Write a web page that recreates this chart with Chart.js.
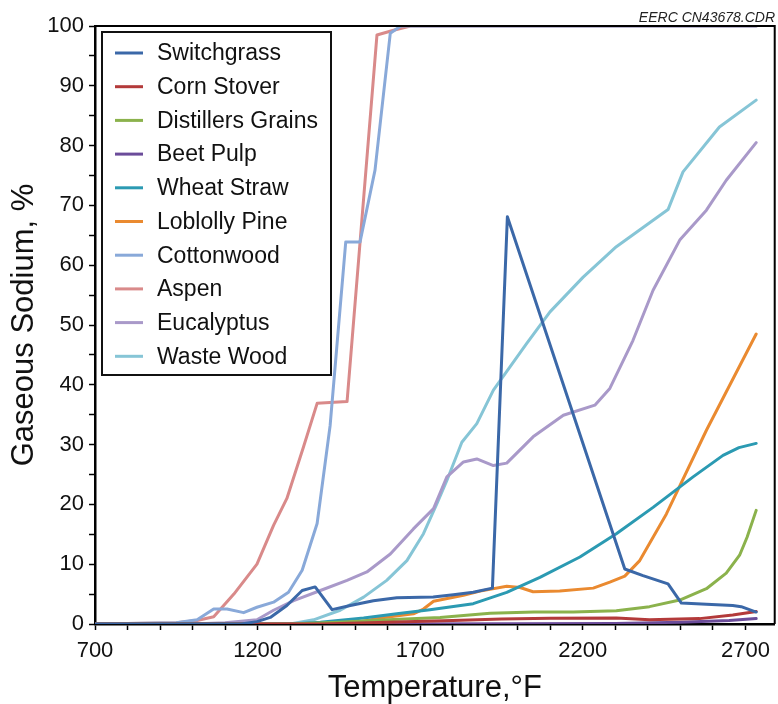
<!DOCTYPE html>
<html>
<head>
<meta charset="utf-8">
<script src="https://cdn.jsdelivr.net/npm/chart.js@4.4.1/dist/chart.umd.min.js"></script>
<style>
  html, body { margin: 0; padding: 0; background: #fff; }
  #wrap { position: relative; width: 778px; height: 704px; }
</style>
</head>
<body>
<div id="wrap"><canvas id="c"></canvas></div>
<script>
// ---- data (temperature in °F, gaseous sodium in %) ----
const seriesNames = ['Switchgrass','Corn Stover','Distillers Grains','Beet Pulp','Wheat Straw','Loblolly Pine','Cottonwood','Aspen','Eucalyptus','Waste Wood'];
const seriesColors = ['#3b68a8','#b33a3a','#8bb24c','#6b4c9a','#2b9ab2','#ea8a30','#89a9d9','#d98a8a','#a999c9','#86c5d6'];

const switchgrassT = [700,1150,1198,1239,1290,1337,1377,1429,1485,1556,1628,1740,1802,1863,1922,1968,2329,2385,2462,2503,2580,2661,2687,2733];
const switchgrassNa = [0,0,0.4,1.1,3.1,5.6,6.2,2.4,3.1,3.9,4.4,4.5,4.9,5.3,6.0,68.1,9.2,8.1,6.7,3.5,3.3,3.1,2.9,2.0];

const cornStoverT = [700,1400,1600,1800,1950,2100,2303,2405,2559,2661,2733];
const cornStoverNa = [0,0,0.3,0.6,0.85,0.95,1.0,0.7,0.9,1.5,2.1];

const distillersT = [700,1300,1450,1600,1761,1915,2050,2170,2303,2405,2498,2580,2641,2682,2705,2733];
const distillersNa = [0,0,0.3,0.7,1.1,1.8,2.0,2.0,2.2,2.9,4.0,5.9,8.5,11.5,14.5,19.0];

const beetPulpT = [700,1500,2000,2300,2500,2650,2733];
const beetPulpNa = [0,0,0.05,0.1,0.3,0.6,0.9];

const wheatStrawT = [700,1300,1393,1526,1628,1730,1863,1966,2068,2191,2303,2416,2539,2631,2680,2733];
const wheatStrawNa = [0,0,0.3,1.0,1.7,2.4,3.4,5.3,7.8,11.2,15.1,19.5,24.6,28.2,29.5,30.2];

const loblollyT = [700,1400,1500,1577,1679,1710,1741,1833,1884,1966,2007,2047,2129,2232,2283,2329,2375,2457,2580,2733];
const loblollyNa = [0,0,0.2,1.0,1.7,2.5,3.8,4.8,5.5,6.3,6.1,5.4,5.5,6.0,7.0,8.0,10.6,18.4,32.4,48.5];

const cottonwoodT = [700,950,1014,1065,1106,1157,1198,1249,1295,1337,1383,1423,1471,1515,1561,1608,1640,2733];
const cottonwoodNa = [0,0.2,0.7,2.5,2.5,1.9,2.8,3.65,5.3,9.0,16.8,33.2,63.9,63.9,75.9,98.8,100,100];

const aspenT = [700,950,1014,1065,1127,1198,1249,1290,1341,1383,1475,1567,1618,1670,2733];
const aspenNa = [0,0.2,0.6,1.2,5,10,16.5,21,29.6,36.9,37.2,98.5,99.3,100,100];

const eucalyptusT = [700,1000,1100,1198,1249,1311,1393,1475,1536,1608,1679,1741,1782,1833,1874,1925,1966,2047,2140,2237,2283,2354,2416,2498,2580,2641,2733];
const eucalyptusNa = [0,0,0.2,0.7,2.3,3.9,5.6,7.3,8.7,11.7,15.9,19.3,24.6,27.1,27.6,26.5,26.9,31.3,34.9,36.6,39.4,47.4,55.8,64.2,69.2,74.2,80.5];

const wasteWoodT = [700,1300,1372,1454,1526,1597,1659,1710,1751,1782,1828,1874,1925,1976,2027,2099,2201,2303,2462,2508,2620,2733];
const wasteWoodNa = [0,0,0.7,2.3,4.5,7.3,10.6,15.1,20.1,24,30.4,33.5,39.1,43,46.9,52.2,58,63.1,69.3,75.6,83.1,87.6];

const xTickLabels = [700,1200,1700,2200,2700];
const xMinorStep = 100;
const yTickLabels = [0,10,20,30,40,50,60,70,80,90,100];
const yMinorStep = 5;

const seriesT = [switchgrassT,cornStoverT,distillersT,beetPulpT,wheatStrawT,loblollyT,cottonwoodT,aspenT,eucalyptusT,wasteWoodT];
const seriesNa = [switchgrassNa,cornStoverNa,distillersNa,beetPulpNa,wheatStrawNa,loblollyNa,cottonwoodNa,aspenNa,eucalyptusNa,wasteWoodNa];

const FONT = "'Liberation Sans', Arial, Helvetica, sans-serif";

const datasets = seriesNames.map((name, i) => ({
  label: name,
  data: seriesT[i].map((t, k) => ({x: t, y: seriesNa[i][k]})),
  borderColor: seriesColors[i],
  backgroundColor: seriesColors[i],
  borderWidth: 3,
  pointRadius: 0,
  tension: 0,
  fill: false,
  borderJoinStyle: 'round',
  borderCapStyle: 'round'
}));

const framePlugin = {
  id: 'frameAndLegend',
  afterDatasetsDraw(chart) {
    const {ctx, chartArea: a} = chart;
    ctx.save();
    // top and right frame
    ctx.strokeStyle = '#000';
    ctx.lineWidth = 2;
    ctx.beginPath();
    ctx.moveTo(a.left, a.top);
    ctx.lineTo(a.right, a.top);
    ctx.lineTo(a.right, a.bottom);
    ctx.stroke();

    // legend box
    const bx = 102, by = 32, bw = 229, bh = 343;
    ctx.fillStyle = '#fff';
    ctx.fillRect(bx, by, bw, bh);
    ctx.lineWidth = 2;
    ctx.strokeStyle = '#111';
    ctx.strokeRect(bx, by, bw, bh);
    ctx.font = '23px ' + FONT;
    ctx.textBaseline = 'middle';
    ctx.textAlign = 'left';
    chart.data.datasets.forEach((ds, i) => {
      const y = 53 + i * 33.7;
      ctx.strokeStyle = ds.borderColor;
      ctx.lineWidth = 3;
      ctx.beginPath();
      ctx.moveTo(115, y);
      ctx.lineTo(143, y);
      ctx.stroke();
      ctx.fillStyle = '#111';
      ctx.fillText(ds.label, 157, y + 1);
    });

    // drawing id
    ctx.font = 'italic 14px ' + FONT;
    ctx.fillStyle = '#222';
    ctx.textAlign = 'right';
    ctx.textBaseline = 'alphabetic';
    ctx.fillText('EERC CN43678.CDR', 775, 22);
    ctx.restore();
  }
};

new Chart(document.getElementById('c'), {
  type: 'line',
  data: { datasets },
  options: {
    responsive: true,
    maintainAspectRatio: false,
    animation: false,
    layout: { padding: { top: 26, right: 2, left: 0, bottom: 0 } },
    plugins: { legend: { display: false }, tooltip: { enabled: false } },
    scales: {
      x: {
        type: 'linear',
        min: 700,
        max: 2790,
        afterBuildTicks(scale) {
          const t = [];
          for (let v = xTickLabels[0]; v <= xTickLabels[xTickLabels.length - 1]; v += xMinorStep) t.push({value: v});
          scale.ticks = t;
        },
        afterFit(scale) { scale.height = 80; },
        grid: { drawOnChartArea: false, drawTicks: true, tickLength: 6, tickColor: '#000', tickWidth: 1.5 },
        border: { display: true, color: '#000', width: 2.5 },
        ticks: {
          autoSkip: false,
          maxRotation: 0,
          padding: 8,
          color: '#111',
          font: { family: FONT, size: 22 },
          callback: (v) => xTickLabels.includes(v) ? String(v) : ''
        },
        title: {
          display: true,
          text: 'Temperature,°F',
          color: '#111',
          font: { family: FONT, size: 31 },
          padding: { top: 0, bottom: -3 }
        }
      },
      y: {
        type: 'linear',
        min: 0,
        max: 100,
        afterBuildTicks(scale) {
          const t = [];
          for (let v = yTickLabels[0]; v <= yTickLabels[yTickLabels.length - 1]; v += yMinorStep) t.push({value: v});
          scale.ticks = t;
        },
        afterFit(scale) { scale.width = 95; },
        grid: { drawOnChartArea: false, drawTicks: true, tickLength: 6, tickColor: '#000', tickWidth: 1.5 },
        border: { display: true, color: '#000', width: 2.5 },
        ticks: {
          autoSkip: false,
          padding: 5,
          color: '#111',
          font: { family: FONT, size: 22 },
          callback: (v) => yTickLabels.includes(v) ? String(v) : ''
        },
        title: {
          display: true,
          text: 'Gaseous Sodium, %',
          color: '#111',
          font: { family: FONT, size: 31 },
          padding: { top: 6, bottom: 0 }
        }
      }
    }
  },
  plugins: [framePlugin]
});
</script>
</body>
</html>
